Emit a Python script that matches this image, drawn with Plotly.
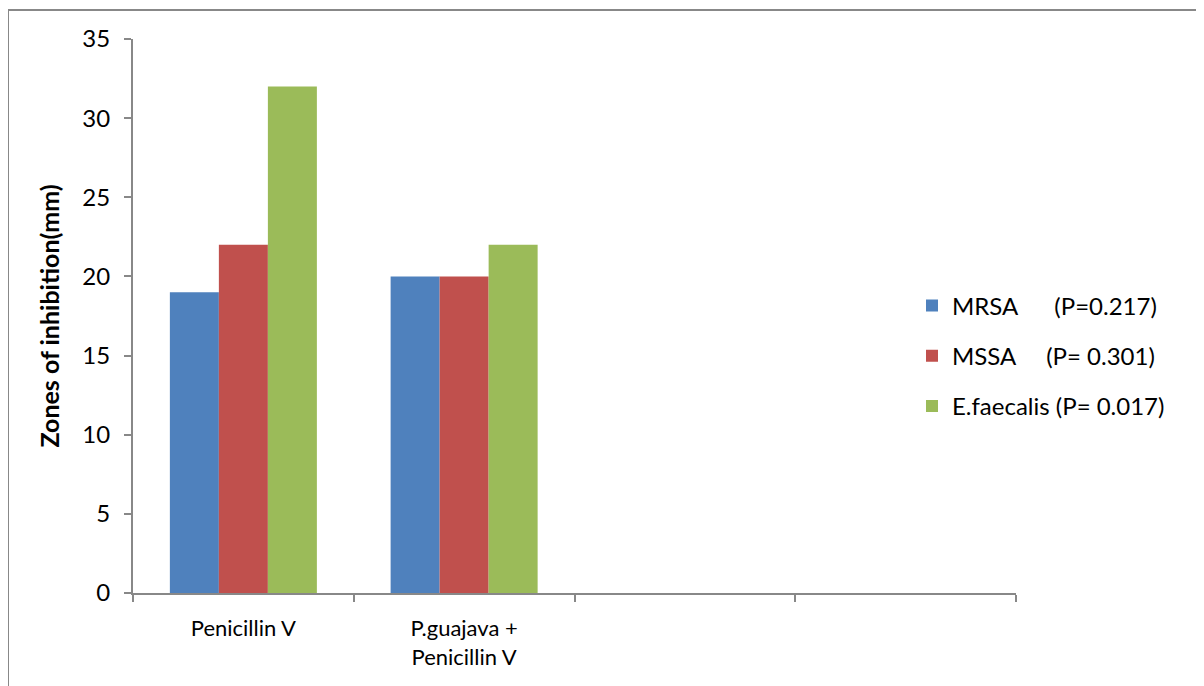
import plotly.graph_objects as go

categories = ["Penicillin V", "P.guajava +<br>Penicillin V", " ", "  "]
series_names = ["MRSA\u00a0\u00a0\u00a0\u00a0\u00a0\u00a0(P=0.217)",
                "MSSA\u00a0\u00a0\u00a0\u00a0\u00a0(P=\u00a00.301)",
                "E.faecalis\u00a0(P=\u00a00.017)"]
mrsa = [19, 20, None, None]
mssa = [22, 20, None, None]
efaecalis = [32, 22, None, None]
colors = ["#4F81BD", "#C0504D", "#9BBB59"]
y_ticks = [0, 5, 10, 15, 20, 25, 30, 35]

fig = go.Figure()
for i, (name, vals) in enumerate(zip(series_names, [mrsa, mssa, efaecalis])):
    fig.add_trace(go.Bar(x=categories, y=vals, name=name, marker_color=colors[i],
                         marker_line_width=0, legendgroup=f"g{i}"))

OFF = 8  # page body offset
PL, PR, PT, PB = 133, 1016, 39, 593  # plot area in page pixels
W, H = 1204, 686
pw, ph = PR - PL, PB - PT

fig.update_layout(
    width=W, height=H,
    margin=dict(l=PL - OFF, r=W - PR + OFF, t=PT - OFF, b=H - PB + OFF),
    paper_bgcolor="white", plot_bgcolor="white",
    barmode="group", bargap=0.334, bargroupgap=0,
    font=dict(family="Lato, Open Sans, sans-serif", size=22, color="black"),
    showlegend=True,
    legend=dict(x=(912 - PL) / pw, xanchor="left", y=(PB - 356) / ph, yanchor="middle",
                font=dict(size=24), traceorder="grouped", tracegroupgap=16,
                bgcolor="rgba(0,0,0,0)"),
    xaxis=dict(type="category", categoryorder="array", categoryarray=categories,
               range=[-0.5, 3.5], showline=True, linecolor="#888888", linewidth=2,
               ticks="outside", tickson="boundaries", ticklen=7, tickcolor="#888888",
               tickwidth=2, showgrid=False, zeroline=False, tickfont=dict(size=22),
               ticklabelstandoff=15),
    yaxis=dict(range=[0, 35], tickvals=y_ticks, showline=True, linecolor="#888888",
               linewidth=2, ticks="outside", ticklen=7, tickcolor="#888888", tickwidth=2,
               showgrid=False, zeroline=False, tickfont=dict(size=24),
               ticklabelstandoff=9,
               title=dict(text="<b>Zones of inhibition(mm)</b>", font=dict(size=25), standoff=16)),
    shapes=[dict(type="rect", xref="paper", yref="paper",
                 x0=(8 - PL) / pw, x1=(1240 - PL) / pw,
                 y0=(PB - 720) / ph, y1=(PB - 10) / ph,
                 line=dict(color="#888888", width=2), fillcolor="rgba(0,0,0,0)", layer="below")],
)

fig.write_html("out.html")
